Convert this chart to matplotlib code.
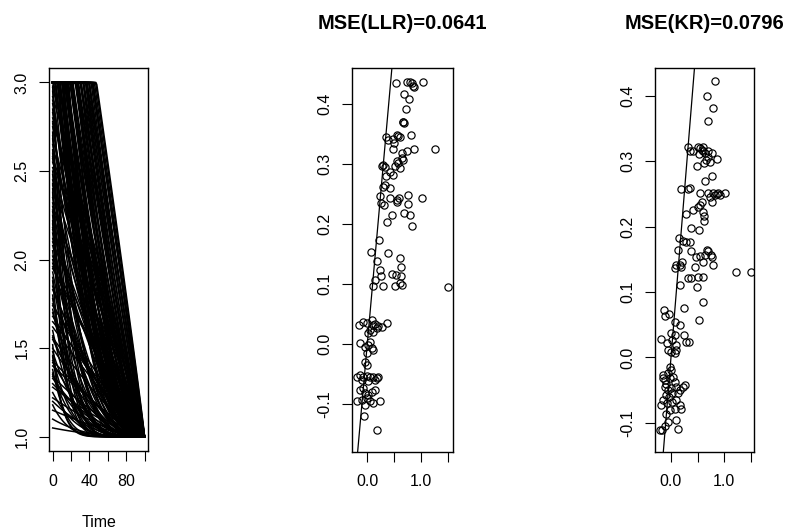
import numpy as np
import matplotlib
matplotlib.use("Agg")
import matplotlib.pyplot as plt

plt.rcParams["font.family"] = ["Liberation Sans", "DejaVu Sans"]

# panel 1: functional curves, y = min(3, 1 + amp * ((100 - t) / 100) ** shape)
time_grid = np.arange(0, 101)
curve_amp = [3.7, 3.5, 3.4, 3.3, 3.2, 3.1, 3.0, 2.9, 2.8, 2.7,
             2.6, 2.5, 2.4, 2.3, 2.2, 2.1, 3.6, 3.45, 3.25, 3.05,
             2.85, 2.65, 2.45, 2.25, 3.3, 3.0, 2.7, 2.4, 3.55, 3.15,
             2.95, 2.55, 2.35, 2.15, 3.35, 2.75,
             3.68, 3.62, 3.58, 3.52, 3.48, 3.42, 3.38, 3.32, 3.28, 3.22,
             3.18, 3.12, 3.08, 3.02, 2.98, 2.92, 2.88, 2.82, 2.78, 2.72,
             2.68, 2.62, 2.58, 2.52, 2.48, 2.42, 2.38, 2.32, 2.28, 2.22,
             2.18, 2.12, 2.08, 3.66, 3.4, 3.1, 2.9, 2.6, 2.3, 3.5,
             2.0, 1.95, 1.9, 1.85, 1.8, 1.75, 1.7, 1.65, 1.6, 1.55,
             1.5, 1.45, 1.4, 1.35, 1.3, 1.25, 1.2, 1.15, 1.1, 1.05,
             1.0, 0.95, 0.9, 0.85, 0.8, 0.75, 0.7, 0.65, 0.6, 0.55,
             0.5, 0.48, 0.45, 0.42, 0.4, 0.38, 0.35, 0.3, 0.25, 0.2,
             0.15, 0.1, 0.05, 1.98, 1.72, 1.48, 1.22, 0.98, 0.78, 0.46,
             0.36, 0.28, 0.18, 1.88, 1.62, 1.38, 1.12, 0.88, 0.62, 0.52,
             1.97, 1.83, 1.77, 1.68, 1.57, 1.52, 1.43, 1.32, 1.27, 1.17,
             1.08, 1.02, 0.93, 0.83, 0.72, 0.68, 0.57, 0.43, 0.33, 0.22,
             1.92, 1.78, 1.58, 1.42, 1.28, 1.18, 0.96, 0.74, 0.56, 0.34]
curve_shape = [0.95, 1.0, 1.05, 1.1, 1.0, 1.2, 1.15, 1.3, 1.1, 1.4,
               1.25, 1.5, 1.35, 1.7, 1.5, 1.9, 1.6, 1.8, 2.0, 1.45,
               2.2, 1.9, 2.4, 2.1, 2.6, 2.3, 2.8, 3.0, 1.3, 1.55,
               1.75, 2.0, 2.5, 2.2, 2.8, 2.5,
               0.97, 1.02, 1.08, 1.0, 1.12, 1.05, 1.18, 1.1, 1.22, 1.15,
               1.28, 1.2, 1.35, 1.25, 1.42, 1.3, 1.5, 1.38, 1.6, 1.45,
               1.7, 1.55, 1.85, 1.65, 2.0, 1.75, 2.15, 1.85, 2.3, 1.95,
               2.5, 2.1, 2.7, 1.0, 1.65, 1.9, 2.05, 2.35, 2.6, 1.4,
               1.2, 2.5, 1.6, 3.2, 1.1, 2.0, 4.0, 1.4, 2.8, 1.0,
               3.5, 1.8, 5.0, 1.3, 2.2, 6.0, 1.5, 3.0, 1.2, 4.5,
               2.4, 1.1, 3.8, 1.7, 5.5, 1.3, 2.6, 1.0, 4.2, 2.0,
               1.6, 3.4, 5.0, 2.3, 1.2, 7.0, 3.0, 1.8, 4.0, 2.5,
               1.5, 3.0, 2.0, 5.0, 6.5, 2.9, 8.0, 1.9, 3.6, 9.0,
               4.6, 1.4, 6.0, 1.9, 4.8, 7.5, 2.7, 6.2, 1.15, 10.0,
               1.05, 1.35, 2.1, 1.15, 1.9, 1.25, 2.6, 1.45, 3.3, 1.6,
               2.1, 1.25, 2.9, 1.5, 3.7, 1.2, 2.4, 1.3, 2.2, 1.6,
               0.95, 1.0, 1.05, 1.1, 1.0, 1.3, 1.05, 1.1, 1.3, 1.5]

# panel 2: LLR
llr_x = [0.535, 0.734, 0.796, 0.84, 0.858, 0.871, 1.045, 0.684, 0.777, 0.715,
         0.659, 0.672, 0.69, 0.348, 0.392, 0.547, 0.578, 0.485, 0.609, 0.808, 0.504,
         0.485, 0.64, 0.734, 0.877, 1.262,
         0.267, 0.299, 0.33, 0.547, 0.578, 0.516, 0.64, 0.672, 0.609, 0.485,
         0.348, 0.423, 0.33, 0.423,
         0.286, 0.236, 0.249, 0.311, 0.423, 0.547, 0.56, 0.591, 0.765, 0.765,
         1.026, 0.69, 0.796, 0.84, 0.454, 0.361,
         0.218, 0.068, 0.187, 0.392, 0.236, 0.143, 0.112, 0.299, 0.255,
         0.609, 0.622, 0.628, 0.454, 0.535, 0.516, 0.609, 0.64, 1.511,
         -0.15, -0.075, -0.012, 0.081, 0.10, 0.143, 0.205, 0.267, 0.361,
         0.05, 0.112, 0.174, 0.019,
         -0.137, -0.044, 0.019, 0.081, 0.112, -0.012, 0.05,
         -0.044, -0.012, -0.20, -0.137, -0.075, -0.012, 0.05, 0.112, 0.174,
         0.205, -0.106, 0.019, 0.143,
         -0.137, -0.075, -0.044, 0.019, 0.081, 0.143, -0.20, -0.106, -0.012,
         0.05, 0.112, 0.236, -0.044, -0.062, 0.174]
llr_y = [0.434, 0.437, 0.437, 0.434, 0.430, 0.428, 0.437, 0.416, 0.408, 0.392,
         0.370, 0.369, 0.368, 0.344, 0.340, 0.348, 0.346, 0.341, 0.344, 0.348, 0.334,
         0.324, 0.318, 0.321, 0.324, 0.324,
         0.297, 0.298, 0.294, 0.304, 0.301, 0.296, 0.309, 0.307, 0.293, 0.282,
         0.279, 0.286, 0.265, 0.260,
         0.261, 0.246, 0.235, 0.232, 0.243, 0.240, 0.237, 0.243, 0.248, 0.233,
         0.244, 0.218, 0.215, 0.196, 0.215, 0.204,
         0.174, 0.154, 0.138, 0.151, 0.124, 0.107, 0.096, 0.096, 0.113,
         0.143, 0.129, 0.113, 0.117, 0.115, 0.096, 0.101, 0.099, 0.095,
         0.032, 0.036, 0.035, 0.040, 0.032, 0.034, 0.031, 0.029, 0.035,
         0.024, 0.021, 0.027, 0.018,
         0.002, -0.004, -0.001, -0.007, -0.009, -0.015, 0.004,
         -0.029, -0.034, -0.054, -0.051, -0.054, -0.053, -0.054, -0.055, -0.057,
         -0.054, -0.059, -0.062, -0.059,
         -0.076, -0.073, -0.082, -0.084, -0.079, -0.076, -0.095, -0.093, -0.090,
         -0.095, -0.098, -0.095, -0.101, -0.119, -0.143]

# panel 3: KR
kr_x = [0.829, 0.671, 0.785, 0.703,
        0.323, 0.354, 0.513, 0.544, 0.576, 0.608, 0.639, 0.532, 0.703, 0.690,
        0.658, 0.620, 0.481, 0.734, 0.873, 0.766, 0.595, 0.418,
        0.766, 0.639, 0.196, 0.323, 0.354,
        0.544, 0.703, 0.785, 0.829, 0.861, 0.892, 0.924, 1.019, 0.734, 0.766,
        0.576, 0.544, 0.513,
        0.278, 0.418, 0.608, 0.620, 0.620, 0.386, 0.532,
        0.152, 0.228, 0.291, 0.354, 0.133, 0.386,
        0.671, 0.703, 0.544, 0.639, 0.747, 0.766, 0.468, 0.797, 0.608,
        0.089, 0.070, 0.165, 0.196, 0.215,
        0.449, 0.513, 0.323, 0.386, 0.481, 0.608, 1.222, 1.513,
        0.177, 0.595, 0.532, 0.241,
        -0.133, -0.038, -0.120, 0.070, 0.165, 0.247, 0.278, 0.342,
        -0.184, -0.076, 0.006, 0.070, 0.101, -0.057, 0.006, 0.070, 0.101, 0.025,
        -0.025, 0.006, -0.057, -0.152, -0.120, -0.089, -0.025, 0.038, 0.070,
        0.101, 0.006, -0.057, -0.120, -0.152, 0.165, 0.228, 0.259, 0.133,
        0.025, -0.038, -0.101, -0.152, -0.184, -0.076, 0.025, 0.101, 0.165,
        0.196, 0.070, -0.089, -0.025,
        -0.215, -0.120, -0.057, 0.101, 0.133, -0.165]
kr_y = [0.423, 0.400, 0.381, 0.362,
        0.322, 0.315, 0.322, 0.320, 0.317, 0.315, 0.312, 0.311, 0.315, 0.307,
        0.302, 0.297, 0.293, 0.299, 0.304, 0.312, 0.322, 0.315,
        0.277, 0.270, 0.257, 0.257, 0.259,
        0.252, 0.251, 0.252, 0.248, 0.250, 0.251, 0.249, 0.251, 0.246, 0.238,
        0.238, 0.233, 0.230,
        0.220, 0.226, 0.223, 0.216, 0.208, 0.198, 0.195,
        0.182, 0.178, 0.177, 0.177, 0.165, 0.162,
        0.164, 0.162, 0.155, 0.157, 0.157, 0.154, 0.154, 0.141, 0.146,
        0.142, 0.137, 0.142, 0.139, 0.146,
        0.139, 0.123, 0.121, 0.121, 0.107, 0.123, 0.130, 0.130,
        0.111, 0.085, 0.058, 0.075,
        0.073, 0.067, 0.063, 0.055, 0.049, 0.035, 0.024, 0.024,
        0.029, 0.022, 0.037, 0.034, 0.019, 0.011, 0.009, 0.007, 0.011, 0.027,
        -0.014, -0.019, -0.024, -0.027, -0.035, -0.040, -0.032, -0.030, -0.037,
        -0.045, -0.047, -0.050, -0.045, -0.032, -0.050, -0.045, -0.042, -0.055,
        -0.055, -0.060, -0.058, -0.065, -0.073, -0.070, -0.068, -0.065, -0.073,
        -0.078, -0.078, -0.086, -0.081,
        -0.111, -0.104, -0.098, -0.096, -0.109, -0.111]

titles = ["MSE(LLR)=0.0641", "MSE(KR)=0.0796"]

W, H = 785, 531
fig = plt.figure(figsize=(W / 100, H / 100), dpi=100)


def box(left, right, top, bottom):
    return [left / W, 1 - bottom / H, (right - left) / W, (bottom - top) / H]


ax1 = fig.add_axes(box(49, 148.3, 68.3, 451))
ax2 = fig.add_axes(box(351.7, 452.7, 68.3, 451.7))
ax3 = fig.add_axes(box(655, 754.3, 68.3, 451.7))

t = np.array(time_grid, dtype=float)
for a, p in zip(curve_amp, curve_shape):
    y = np.minimum(3.0, 1 + a * ((100 - t) / 100) ** p)
    ax1.plot(t, y, color="black", lw=1.1)
ax1.set_xlim(-4, 104)
ax1.set_ylim(0.92, 3.08)
ax1.set_xticks([0, 20, 40, 60, 80, 100])
ax1.set_xticklabels(["0", "", "40", "", "80", ""])
ax1.set_yticks([1.0, 1.5, 2.0, 2.5, 3.0])
ax1.set_yticklabels(["1.0", "1.5", "2.0", "2.5", "3.0"])
ax1.set_xlabel("Time", fontsize=11.5, labelpad=19)

for ax, xs, ys, title, xl, yl in [
        (ax2, llr_x, llr_y, titles[0], (-0.29, 1.593), (-0.179, 0.459)),
        (ax3, kr_x, kr_y, titles[1], (-0.301, 1.569), (-0.144, 0.442))]:
    ax.plot(xs, ys, "o", mfc="none", mec="black", ms=5.2, mew=0.85)
    ax.axline((0, 0), slope=1, color="black", lw=0.9)
    ax.set_xlim(*xl)
    ax.set_ylim(*yl)
    ax.set_xticks([0.0, 0.5, 1.0, 1.5])
    ax.set_xticklabels(["0.0", "", "1.0", ""])
    ax.set_yticks([-0.1, 0.0, 0.1, 0.2, 0.3, 0.4])
    ax.set_yticklabels(["-0.1", "0.0", "0.1", "0.2", "0.3", "0.4"])
    ax.set_title(title, fontsize=14.5, fontweight="bold", pad=28)

for ax in (ax1, ax2, ax3):
    for s in ax.spines.values():
        s.set_linewidth(1.0)
    ax.tick_params(axis="both", length=7.2, width=0.8, labelsize=11.5)
    ax.tick_params(axis="x", pad=9)
    ax.tick_params(axis="y", pad=7, labelrotation=90)
    for lab in ax.get_yticklabels():
        lab.set_va("center")

fig.savefig("out.png", dpi=100)
